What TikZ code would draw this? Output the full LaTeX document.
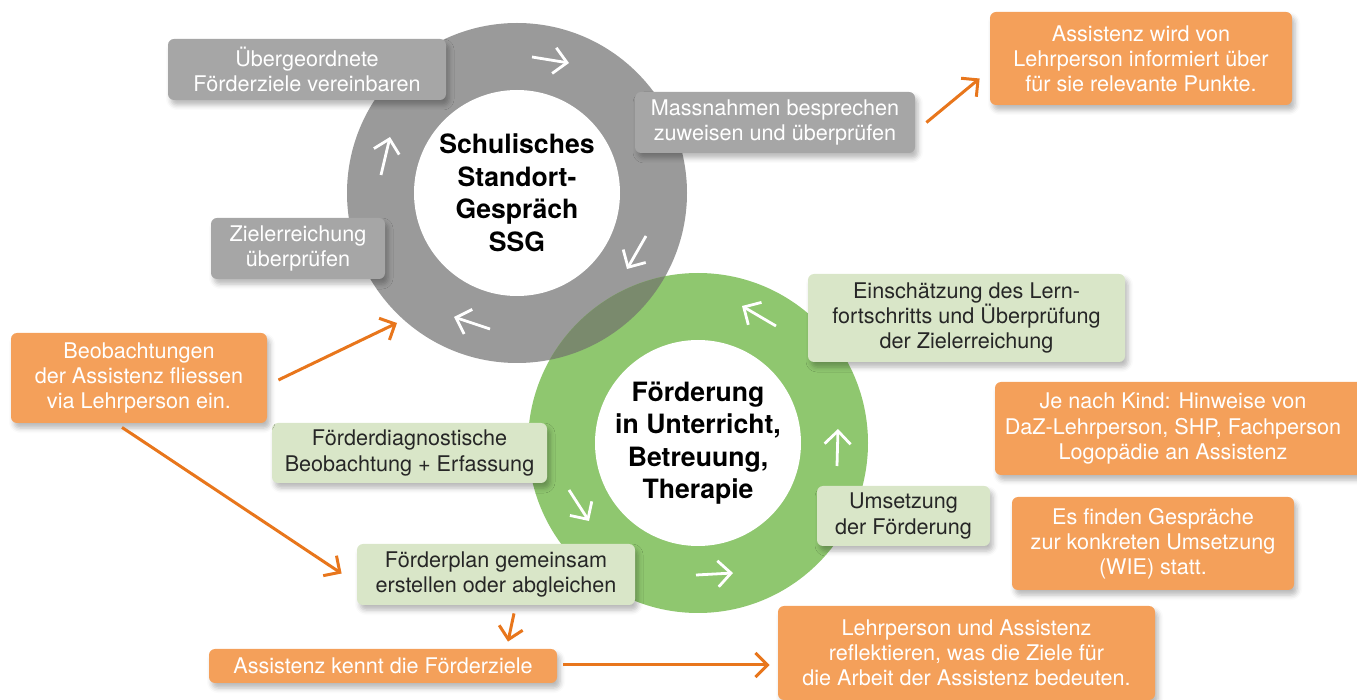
\documentclass[tikz,border=0pt]{standalone}
\usepackage{fontspec}
\setmainfont{TeX Gyre Heros}
\usetikzlibrary{arrows.meta,calc,shadows.blur}
\definecolor{ringGray}{HTML}{9A9A9A}
\definecolor{ringGreen}{HTML}{8FC76F}
\definecolor{ringOver}{HTML}{7A8A6D}
\definecolor{grayBox}{HTML}{A6A6A6}
\definecolor{greenBox}{HTML}{D9E6C8}
\definecolor{orangeBox}{HTML}{F4A05A}
\definecolor{orangeLine}{HTML}{E8761C}
\definecolor{textDark}{HTML}{262626}
\tikzset{
  box/.style={rounded corners=3pt, align=center, inner sep=0pt,
    font=\fontsize{10.8}{12.6}\selectfont,
    blur shadow={shadow xshift=1.5pt, shadow yshift=-2.5pt, shadow blur radius=2.5pt, shadow opacity=28}},
  graybox/.style={box, fill=grayBox, text=white},
  greenbox/.style={box, fill=greenBox, text=textDark},
  orangebox/.style={box, fill=orangeBox, text=white},
  hub/.style={circle, fill=white, minimum size=103pt, inner sep=0pt, align=center,
    font=\fontsize{13.3}{16.25}\selectfont\bfseries, text=black},
  ringarrow/.style={draw=white, line width=1.4pt, -{Straight Barb[length=6.5pt,width=13pt]}},
  oarrow/.style={draw=orangeLine, line width=1.5pt, -{Straight Barb[length=6pt,width=12pt]}}
}
\begin{document}
\begin{tikzpicture}[x=0.5pt,y=-0.5pt]
\useasboundingbox (0,0) rectangle (1357,700);
% rings
\fill[ringGray] (517,193) circle[radius=85pt];
\fill[ringGreen] (698,443) circle[radius=85pt];
\begin{scope}
  \clip (517,193) circle[radius=85pt];
  \fill[ringOver] (698,443) circle[radius=85pt];
\end{scope}
\node[hub] (ssg) at (517,193) {Schulisches\\Standort-\\Gespräch\\SSG};
\node[hub] (ford) at (698,443) {Förderung\\in Unterricht,\\Betreuung,\\Therapie};
% white cycle arrows (gray ring)
\draw[ringarrow] (532,57) -- (569,63);
\draw[ringarrow] (646,236) -- (627,269);
\draw[ringarrow] (490,329) -- (454,317);
\draw[ringarrow] (381,175) -- (390,137);
% white cycle arrows (green ring)
\draw[ringarrow] (776,326) -- (742,306);
\draw[ringarrow] (837,466) -- (838,429);
\draw[ringarrow] (696,575) -- (733,573);
\draw[ringarrow] (569,490) -- (589,521);
% gray boxes
\node[graybox, minimum width=139pt, minimum height=30.5pt] (g1) at (307,69.5) {Übergeordnete\\Förderziele vereinbaren};
\node[graybox, minimum width=87pt, minimum height=30.5pt] (g2) at (298,248.5) {Zielerreichung\\überprüfen};
\node[graybox, minimum width=140pt, minimum height=30.5pt] (g3) at (775,122.5) {Massnahmen besprechen\\zuweisen und überprüfen};
% green boxes
\node[greenbox, minimum width=158.5pt, minimum height=44pt] (n1) at (966.5,318) {Einschätzung des Lern-\\fortschritts und Überprüfung\\der Zielerreichung};
\node[greenbox, minimum width=137.5pt, minimum height=30pt] (n2) at (409.5,453) {Förderdiagnostische\\Beobachtung + Erfassung};
\node[greenbox, minimum width=86.5pt, minimum height=30pt] (n3) at (903.5,516) {Umsetzung\\der Förderung};
\node[greenbox, minimum width=139pt, minimum height=30.5pt] (n4) at (496,574.5) {Förderplan gemeinsam\\erstellen oder abgleichen};
% orange boxes
\node[orangebox, minimum width=151pt, minimum height=46.5pt] (o1) at (1141,58.5) {Assistenz wird von\\Lehrperson informiert über\\für sie relevante Punkte.};
\node[orangebox, minimum width=128pt, minimum height=45pt] (o2) at (139,378) {Beobachtungen\\der Assistenz fliessen\\via Lehrperson ein.};
\node[orangebox, minimum width=184pt, minimum height=46.5pt] (o3) at (1179,428.5) {\hspace*{-6pt}Je nach Kind: Hinweise von\\\hspace*{-6pt}DaZ-Lehrperson, SHP, Fachperson\\\hspace*{-6pt}Logopädie an Assistenz};
\node[orangebox, minimum width=141pt, minimum height=46.5pt] (o4) at (1153,543.5) {Es finden Gespräche\\zur konkreten Umsetzung\\(WIE) statt.};
\node[orangebox, minimum width=188.5pt, minimum height=47pt] (o5) at (966.5,653) {Lehrperson und Assistenz\\reflektieren, was die Ziele für\\die Arbeit der Assistenz bedeuten.};
\node[orangebox, minimum width=174pt, minimum height=17pt] (o6) at (383,666) {Assistenz kennt die Förderziele};
% orange connectors
\draw[oarrow] ($(g3.east)+(11,0)$) -- ($(o1.west)+(-10,20)$);
\draw[oarrow] ($(o2.east)+(11,2)$) -- ($(ssg)+(-120,130)$);
\draw[oarrow] ($(o2.south)+(-17,4)$) -- ($(n4.west)+(-15,-1)$);
\draw[oarrow] ($(n4.south)+(18,8)$) -- ($(o6.north)+(125,-7)$);
\draw[oarrow] ($(o6.east)+(6,-1)$) -- ($(o5.west)+(-8,12)$);
\end{tikzpicture}
\end{document}
